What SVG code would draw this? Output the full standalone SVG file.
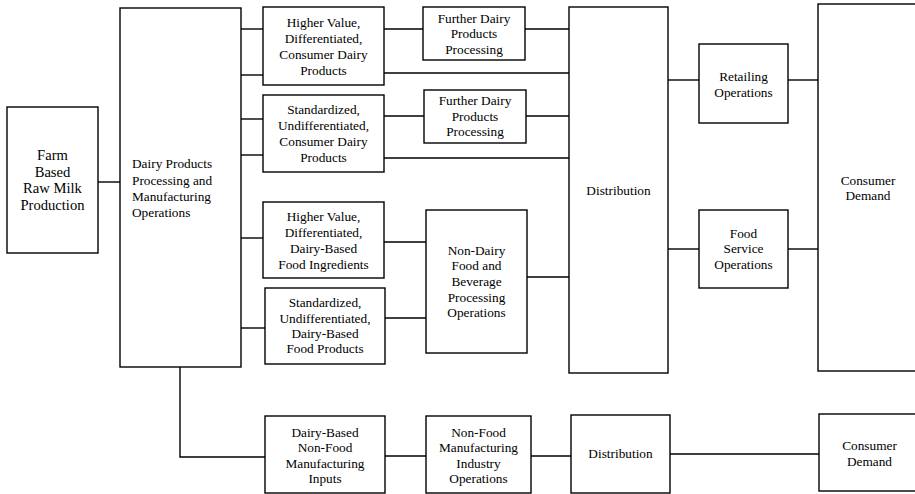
<svg xmlns="http://www.w3.org/2000/svg" width="915" height="494" viewBox="0 0 915 494">
<style>
rect{fill:#fff;stroke:#000;stroke-width:1.4}
.c line,.c polyline{stroke:#000;stroke-width:1.4;fill:none}
text{font-size:13.3px;fill:#000;text-anchor:middle}
.l{text-anchor:start}
.big{font-size:14.6px}
</style>
<rect x="0" y="0" width="915" height="494" style="stroke:none"/>
<g class="c" id="connectors">
<line x1="98" y1="182" x2="120" y2="182"/>
<line x1="241" y1="29" x2="263" y2="29"/>
<line x1="241" y1="75" x2="263" y2="75"/>
<line x1="241" y1="119" x2="263" y2="119"/>
<line x1="241" y1="155" x2="263" y2="155"/>
<line x1="241" y1="238" x2="263" y2="238"/>
<line x1="241" y1="328" x2="265" y2="328"/>
<line x1="384" y1="29" x2="423" y2="29"/>
<line x1="525" y1="29" x2="569" y2="29"/>
<line x1="384" y1="73" x2="569" y2="73"/>
<line x1="384" y1="116" x2="424" y2="116"/>
<line x1="526" y1="116" x2="569" y2="116"/>
<line x1="384" y1="158" x2="569" y2="158"/>
<line x1="384" y1="242" x2="426" y2="242"/>
<line x1="385" y1="318" x2="426" y2="318"/>
<line x1="527" y1="277" x2="569" y2="277"/>
<line x1="668" y1="80" x2="699" y2="80"/>
<line x1="788" y1="80" x2="818" y2="80"/>
<line x1="668" y1="249" x2="699" y2="249"/>
<line x1="788" y1="249" x2="818" y2="249"/>
<polyline points="180,367 180,457 265,457"/>
<line x1="385" y1="456" x2="426" y2="456"/>
<line x1="531" y1="456" x2="571" y2="456"/>
<line x1="670" y1="454" x2="819" y2="454"/>
</g>
<g font-family="Liberation Serif, serif">
<g id="farm"><rect x="7" y="107" width="91" height="146"/>
<text class="big" x="52.5" y="160">Farm</text><text class="big" x="52.5" y="177">Based</text><text class="big" x="52.5" y="193">Raw Milk</text><text class="big" x="52.5" y="210">Production</text></g>
<g id="dairyproc"><rect x="120" y="8" width="121" height="359"/>
<text class="l" x="132" y="168">Dairy Products</text><text class="l" x="132" y="184.5">Processing and</text><text class="l" x="132" y="201">Manufacturing</text><text class="l" x="132" y="217">Operations</text></g>
<g id="hvcdp"><rect x="263" y="7" width="121" height="78"/>
<text x="323.5" y="26.5">Higher Value,</text><text x="323.5" y="42.5">Differentiated,</text><text x="323.5" y="58.5">Consumer Dairy</text><text x="323.5" y="74.5">Products</text></g>
<g id="sucdp"><rect x="263" y="95" width="121" height="77"/>
<text x="323.5" y="114">Standardized,</text><text x="323.5" y="130">Undifferentiated,</text><text x="323.5" y="146">Consumer Dairy</text><text x="323.5" y="162">Products</text></g>
<g id="hvdfi"><rect x="263" y="202" width="121" height="76"/>
<text x="323.5" y="220.5">Higher Value,</text><text x="323.5" y="236.5">Differentiated,</text><text x="323.5" y="252.5">Dairy-Based</text><text x="323.5" y="268.5">Food Ingredients</text></g>
<g id="sudfp"><rect x="265" y="288" width="120" height="76"/>
<text x="325" y="306.5">Standardized,</text><text x="325" y="322.5">Undifferentiated,</text><text x="325" y="338">Dairy-Based</text><text x="325" y="353">Food Products</text></g>
<g id="fdpp1"><rect x="423" y="7" width="102" height="53"/>
<text x="474" y="22.5">Further Dairy</text><text x="474" y="38">Products</text><text x="474" y="53.5">Processing</text></g>
<g id="fdpp2"><rect x="424" y="90" width="102" height="53"/>
<text x="475" y="105">Further Dairy</text><text x="475" y="120.5">Products</text><text x="475" y="136">Processing</text></g>
<g id="nondairy"><rect x="426" y="210" width="101" height="143"/>
<text x="476.5" y="254.5">Non-Dairy</text><text x="476.5" y="270">Food and</text><text x="476.5" y="286">Beverage</text><text x="476.5" y="301.5">Processing</text><text x="476.5" y="317">Operations</text></g>
<g id="dist"><rect x="569" y="7" width="99" height="366"/>
<text x="618.5" y="195">Distribution</text></g>
<g id="retail"><rect x="699" y="44" width="89" height="79"/>
<text x="743.5" y="80.5">Retailing</text><text x="743.5" y="96.5">Operations</text></g>
<g id="foodserv"><rect x="699" y="210" width="89" height="78"/>
<text x="743.5" y="237.5">Food</text><text x="743.5" y="253">Service</text><text x="743.5" y="268.5">Operations</text></g>
<g id="consumer"><rect x="818" y="4" width="100" height="367"/>
<text x="868" y="184.5">Consumer</text><text x="868" y="199.5">Demand</text></g>
<g id="nonfoodinputs"><rect x="265" y="416" width="120" height="77"/>
<text x="325" y="436.5">Dairy-Based</text><text x="325" y="452">Non-Food</text><text x="325" y="467.5">Manufacturing</text><text x="325" y="483">Inputs</text></g>
<g id="nonfoodmfg"><rect x="426" y="416" width="105" height="77"/>
<text x="478.5" y="436.5">Non-Food</text><text x="478.5" y="452">Manufacturing</text><text x="478.5" y="467.5">Industry</text><text x="478.5" y="483">Operations</text></g>
<g id="dist2"><rect x="571" y="415" width="99" height="78"/>
<text x="620.5" y="457.5">Distribution</text></g>
<g id="consumer2"><rect x="819" y="414" width="101" height="77"/>
<text x="869.5" y="449.5">Consumer</text><text x="869.5" y="465.5">Demand</text></g>
</g>
</svg>
